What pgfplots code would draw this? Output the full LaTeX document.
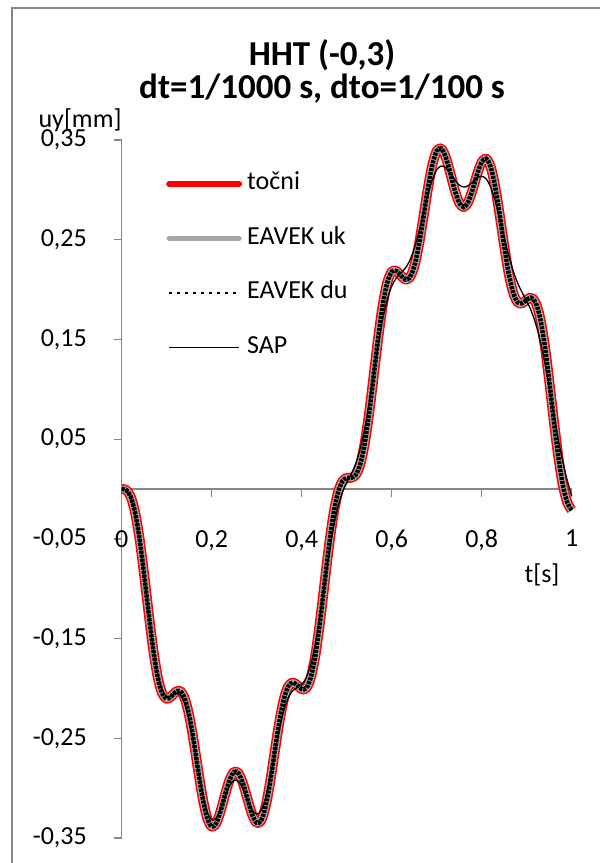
\documentclass[border=0pt]{standalone}
\usepackage{pgfplots}
\pgfplotsset{compat=1.18}
\usepackage{pgfplotstable}
\usepackage{fontspec}
\setmainfont{Carlito}

\definecolor{axisgray}{RGB}{134,134,134}
\definecolor{ukgray}{RGB}{166,166,166}
\newcommand\lblfont{\fontsize{26bp}{31bp}\selectfont}
\newcommand\ttlfont{\fontsize{35bp}{40bp}\selectfont\bfseries}

% uy [mm] over t [s]; EAVEK uk and EAVEK du lie on the exact solution
\pgfplotstableread{
t     tocni    sap
0.00  0.0000   0.0000
0.01 -0.0010  -0.0012
0.02 -0.0077  -0.0084
0.03 -0.0241  -0.0252
0.04 -0.0511  -0.0523
0.05 -0.0864  -0.0870
0.06 -0.1250  -0.1245
0.07 -0.1609  -0.1591
0.08 -0.1885  -0.1856
0.09 -0.2049  -0.2017
0.10 -0.2103  -0.2079
0.11 -0.2081  -0.2076
0.12 -0.2035  -0.2053
0.13 -0.2027  -0.2066
0.14 -0.2100  -0.2151
0.15 -0.2272  -0.2319
0.16 -0.2529  -0.2555
0.17 -0.2825  -0.2820
0.18 -0.3101  -0.3063
0.19 -0.3300  -0.3238
0.20 -0.3386  -0.3317
0.21 -0.3353  -0.3299
0.22 -0.3227  -0.3207
0.23 -0.3060  -0.3083
0.24 -0.2913  -0.2975
0.25 -0.2836  -0.2920
0.26 -0.2854  -0.2935
0.27 -0.2960  -0.3012
0.28 -0.3116  -0.3121
0.29 -0.3265  -0.3218
0.30 -0.3348  -0.3260
0.31 -0.3324  -0.3221
0.32 -0.3179  -0.3093
0.33 -0.2934  -0.2892
0.34 -0.2635  -0.2653
0.35 -0.2344  -0.2419
0.36 -0.2114  -0.2226
0.37 -0.1980  -0.2095
0.38 -0.1941  -0.2023
0.39 -0.1968  -0.1991
0.40 -0.2007  -0.1960
0.41 -0.1998  -0.1894
0.42 -0.1894  -0.1763
0.43 -0.1676  -0.1557
0.44 -0.1355  -0.1286
0.45 -0.0975  -0.0979
0.46 -0.0594  -0.0673
0.47 -0.0271  -0.0402
0.48 -0.0045  -0.0190
0.49  0.0074  -0.0040
0.50  0.0111   0.0064
0.51  0.0113   0.0150
0.52  0.0141   0.0253
0.53  0.0247   0.0401
0.54  0.0457   0.0606
0.55  0.0766   0.0865
0.56  0.1138   0.1154
0.57  0.1517   0.1444
0.58  0.1842   0.1699
0.59  0.2068   0.1898
0.60  0.2178   0.2033
0.61  0.2188   0.2113
0.62  0.2143   0.2163
0.63  0.2102   0.2213
0.64  0.2120   0.2290
0.65  0.2231   0.2409
0.66  0.2438   0.2569
0.67  0.2713   0.2756
0.68  0.3001   0.2941
0.69  0.3244   0.3097
0.70  0.3390   0.3200
0.71  0.3415   0.3240
0.72  0.3329   0.3222
0.73  0.3171   0.3167
0.74  0.2999   0.3101
0.75  0.2871   0.3049
0.76  0.2827   0.3028
0.77  0.2879   0.3042
0.78  0.3006   0.3079
0.79  0.3159   0.3119
0.80  0.3279   0.3136
0.81  0.3313   0.3110
0.82  0.3229   0.3027
0.83  0.3029   0.2890
0.84  0.2747   0.2715
0.85  0.2438   0.2524
0.86  0.2163   0.2343
0.87  0.1968   0.2187
0.88  0.1872   0.2064
0.89  0.1863   0.1969
0.90  0.1898   0.1884
0.91  0.1918   0.1787
0.92  0.1868   0.1658
0.93  0.1711   0.1486
0.94  0.1442   0.1271
0.95  0.1086   0.1022
0.96  0.0695   0.0759
0.97  0.0332   0.0505
0.98  0.0047   0.0278
0.99 -0.0132   0.0087
1.00 -0.0211  -0.0071
}\uydata

\begin{document}
\begin{tikzpicture}
\useasboundingbox (0bp,0bp) rectangle (600bp,-863bp);
% chart area frame, runs off the right and bottom edges
\draw[axisgray, line width=2bp] (11.7bp,-7.5bp) rectangle (640bp,-900bp);

\begin{axis}[
  at={(121.7bp,-838bp)}, anchor=south west,
  scale only axis, width=450bp, height=698bp,
  xmin=0, xmax=1, ymin=-0.35, ymax=0.35,
  clip=false,
  axis lines=middle,
  axis line style={-, draw=axisgray, line width=1.3bp},
  tick align=outside,
  major tick length=8bp,
  tick style={draw=axisgray, line width=1.3bp},
  hide obscured x ticks=false,
  hide obscured y ticks=false,
  xtick={0,0.2,0.4,0.6,0.8,1},
  xticklabels={0,{0,2},{0,4},{0,6},{0,8},1},
  ytick={-0.35,-0.25,-0.15,-0.05,0.05,0.15,0.25,0.35},
  yticklabels={{-0,35},{-0,25},{-0,15},{-0,05},{0,05},{0,15},{0,25},{0,35}},
  every tick label/.append style={font=\lblfont, inner sep=0pt},
  xticklabel style={anchor=north, yshift=-33bp},
  yticklabel style={anchor=east, xshift=-26.7bp},
  xlabel={t[s]}, ylabel={uy[mm]},
  every axis x label/.style={at={(axis description cs:0.934,0.5)}, anchor=base, yshift=-93bp, inner sep=0pt, font=\lblfont},
  every axis y label/.style={at={(axis description cs:0,1)}, anchor=base east, yshift=13bp, inner sep=0pt, font=\lblfont},
  legend style={draw=none, fill=none, at={(axis description cs:0.0984,0.9546)}, anchor=north west,
    inner sep=0pt, row sep=30.5bp, font=\lblfont,
    nodes={inner sep=0pt, text height=18bp, text depth=6bp},
    /tikz/every odd column/.style={column sep=5bp}},
  legend cell align=left,
  legend image code/.code={\draw[#1] (0bp,0bp) -- (70bp,0bp);},
]
\addplot[red, line width=10bp, smooth, line join=round,
  legend image post style={line width=6bp, line cap=round}]
  table[x=t, y=tocni] {\uydata};
\addlegendentry{točni}
\addplot[ukgray, line width=7bp, smooth, line join=round,
  legend image post style={line width=5bp, line cap=round}]
  table[x=t, y=tocni] {\uydata};
\addlegendentry{EAVEK uk}
\addplot[black, line width=4.5bp, smooth, dash pattern=on 3bp off 1bp,
  legend image post style={line width=2.5bp, dash pattern=on 2.5bp off 5.5bp}]
  table[x=t, y=tocni] {\uydata};
\addlegendentry{EAVEK du}
\addplot[black, line width=1.3bp, smooth]
  table[x=t, y=sap] {\uydata};
\addlegendentry{SAP}
\end{axis}

\node[font=\ttlfont, anchor=base] at (322bp,-65bp) {HHT (-0,3)};
\node[font=\ttlfont, anchor=base] at (322bp,-98bp) {dt=1/1000 s, dto=1/100 s};
\end{tikzpicture}
\end{document}
